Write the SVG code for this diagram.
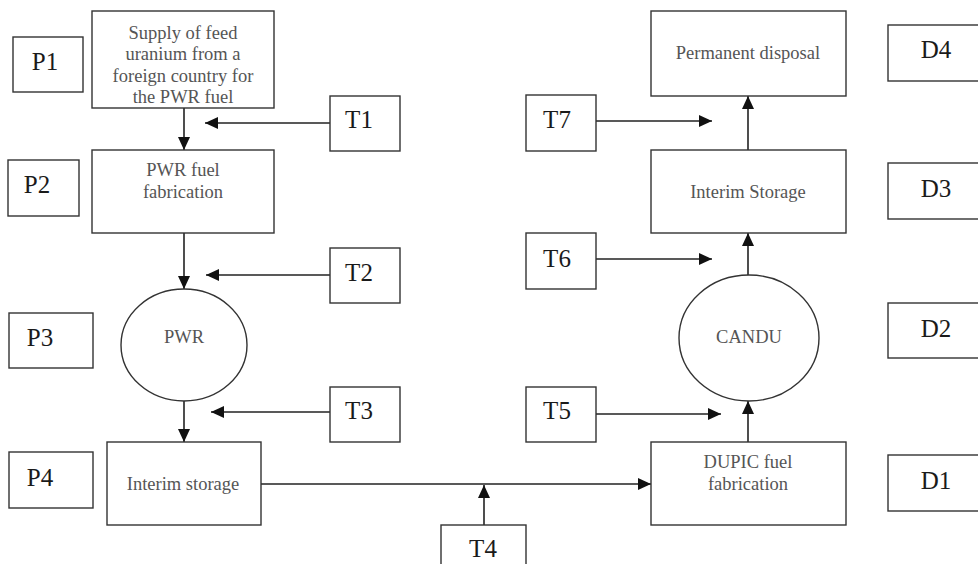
<svg xmlns="http://www.w3.org/2000/svg" width="978" height="564" viewBox="0 0 978 564">
<style>
.box{fill:#fff;stroke:#333;stroke-width:1.4}
.lbl{font-family:"Liberation Serif","Times New Roman",serif;font-size:25px;fill:#1a1a1a;text-anchor:middle}
.nt{font-family:"Liberation Serif","Times New Roman",serif;font-size:18.5px;fill:#555;text-anchor:middle}
.con{stroke:#222;stroke-width:1.6;fill:none;marker-end:url(#ah)}
</style>
<defs>
<marker id="ah" markerUnits="userSpaceOnUse" markerWidth="14" markerHeight="14" viewBox="0 0 14 14" refX="13" refY="7" orient="auto">
<path d="M0,1 L13,7 L0,13 Z" fill="#111"/>
</marker>
</defs>
<rect width="978" height="564" fill="#fff"/>
<g id="connectors">
<line class="con" x1="184" y1="108" x2="184" y2="150"/>
<line class="con" x1="330" y1="123" x2="205" y2="123"/>
<line class="con" x1="184" y1="233" x2="184" y2="289"/>
<line class="con" x1="330" y1="275" x2="206" y2="275"/>
<line class="con" x1="184" y1="401" x2="184" y2="442"/>
<line class="con" x1="330" y1="412" x2="211" y2="412"/>
<line class="con" x1="261" y1="484" x2="651" y2="484"/>
<line class="con" x1="484" y1="525" x2="484" y2="485"/>
<line class="con" x1="596" y1="414" x2="721" y2="414"/>
<line class="con" x1="748" y1="442" x2="748" y2="401"/>
<line class="con" x1="596" y1="259" x2="712" y2="259"/>
<line class="con" x1="748" y1="275" x2="748" y2="233"/>
<line class="con" x1="596" y1="121" x2="712" y2="121"/>
<line class="con" x1="748" y1="150" x2="748" y2="96"/>
</g>
<g id="supply"><rect class="box" x="92" y="11" width="182" height="97"/>
<text class="nt" x="183" y="39">Supply of feed</text>
<text class="nt" x="183" y="60.3">uranium from a</text>
<text class="nt" x="183" y="81.6">foreign country for</text>
<text class="nt" x="183" y="103">the PWR fuel</text></g>
<g id="pwrfab"><rect class="box" x="92" y="150" width="182" height="83"/>
<text class="nt" x="183" y="176">PWR fuel</text>
<text class="nt" x="183" y="198">fabrication</text></g>
<g id="pwr"><ellipse class="box" cx="184" cy="345" rx="63" ry="56"/>
<text class="nt" x="184" y="343">PWR</text></g>
<g id="interim1"><rect class="box" x="107" y="442" width="154" height="83"/>
<text class="nt" x="183" y="490">Interim storage</text></g>
<g id="dupic"><rect class="box" x="651" y="442" width="195" height="83"/>
<text class="nt" x="748" y="468">DUPIC fuel</text>
<text class="nt" x="748" y="490">fabrication</text></g>
<g id="candu"><ellipse class="box" cx="749" cy="338" rx="70" ry="63"/>
<text class="nt" x="749" y="343">CANDU</text></g>
<g id="interim2"><rect class="box" x="651" y="150" width="195" height="83"/>
<text class="nt" x="748" y="198">Interim Storage</text></g>
<g id="perm"><rect class="box" x="651" y="11" width="195" height="85"/>
<text class="nt" x="748" y="59">Permanent disposal</text></g>
<g id="P1"><rect class="box" x="13" y="37" width="70" height="55"/><text class="lbl" x="45" y="70">P1</text></g>
<g id="P2"><rect class="box" x="8" y="160" width="71" height="56"/><text class="lbl" x="37" y="193">P2</text></g>
<g id="P3"><rect class="box" x="9" y="313" width="84" height="55"/><text class="lbl" x="40" y="346">P3</text></g>
<g id="P4"><rect class="box" x="9" y="452" width="84" height="56"/><text class="lbl" x="40" y="486">P4</text></g>
<g id="T1"><rect class="box" x="330" y="96" width="70" height="55"/><text class="lbl" x="359" y="128">T1</text></g>
<g id="T2"><rect class="box" x="330" y="248" width="70" height="55"/><text class="lbl" x="359" y="281">T2</text></g>
<g id="T3"><rect class="box" x="330" y="387" width="70" height="55"/><text class="lbl" x="359" y="419">T3</text></g>
<g id="T4"><rect class="box" x="441" y="525" width="85" height="45"/><text class="lbl" x="483" y="557">T4</text></g>
<g id="T5"><rect class="box" x="526" y="387" width="70" height="55"/><text class="lbl" x="557" y="419">T5</text></g>
<g id="T6"><rect class="box" x="526" y="233" width="70" height="56"/><text class="lbl" x="557" y="267">T6</text></g>
<g id="T7"><rect class="box" x="526" y="95" width="70" height="56"/><text class="lbl" x="557" y="128">T7</text></g>
<g id="D4"><rect class="box" x="888" y="25" width="95" height="56"/><text class="lbl" x="936" y="58">D4</text></g>
<g id="D3"><rect class="box" x="888" y="163" width="95" height="56"/><text class="lbl" x="936" y="197">D3</text></g>
<g id="D2"><rect class="box" x="888" y="303" width="95" height="55"/><text class="lbl" x="936" y="337">D2</text></g>
<g id="D1"><rect class="box" x="888" y="455" width="95" height="56"/><text class="lbl" x="936" y="489">D1</text></g>
</svg>
